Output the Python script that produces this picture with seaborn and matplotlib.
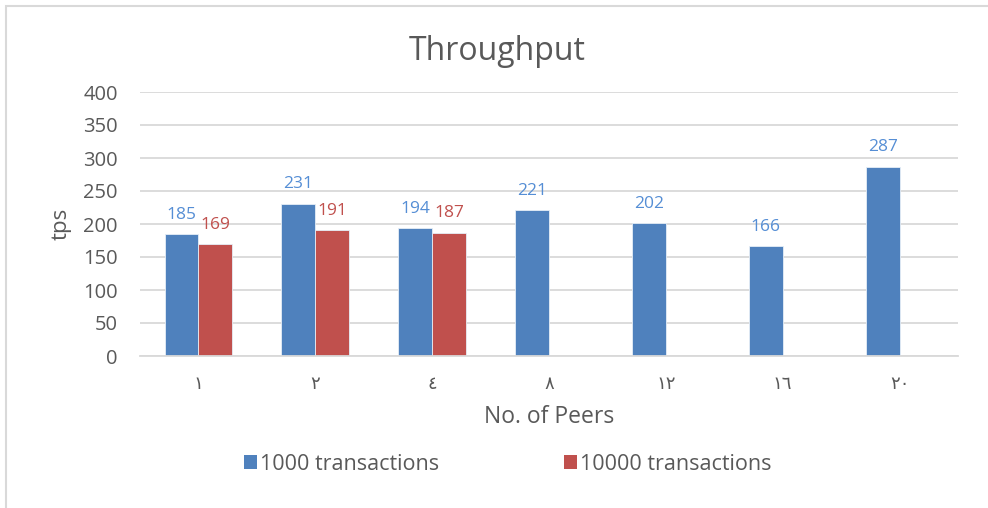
import matplotlib
matplotlib.use("Agg")
import matplotlib.pyplot as plt
from matplotlib.patches import Rectangle, Patch
import seaborn as sns
import pandas as pd
import numpy as np

categories = ["١", "٢", "٤", "٨", "١٢", "١٦", "٢٠"]
tx1000 = [185, 231, 194, 221, 202, 166, 287]
tx10000 = [169, 191, 187, np.nan, np.nan, np.nan, np.nan]
series_names = ["1000 transactions", "10000 transactions"]
colors = ["#4F81BD", "#C0504D"]
label_colors = ["#558ED5", "#C0504D"]
yticks = [0, 50, 100, 150, 200, 250, 300, 350, 400]

df = pd.DataFrame({
    "peers": categories * 2,
    "tps": tx1000 + tx10000,
    "series": [series_names[0]] * len(categories) + [series_names[1]] * len(categories),
})

sns.set_theme(style="white")
plt.rcParams["font.family"] = ["Open Sans", "DejaVu Sans"]
text_color = "#595959"

fig = plt.figure(figsize=(9.88, 5.08), dpi=100)
ax = fig.add_axes([140 / 988, 1 - 356 / 508, (958.5 - 140.5) / 988, (356 - 92) / 508])

sns.barplot(data=df, x="peers", y="tps", hue="series", order=categories,
            hue_order=series_names, palette=colors, width=0.58, gap=0,
            ax=ax, legend=False, edgecolor="#E6EEF7", linewidth=0.6, saturation=1)

for cont, lc in zip(ax.containers, label_colors):
    labels = ["" if np.isnan(v) else f"{int(v)}" for v in cont.datavalues]
    ax.bar_label(cont, labels=labels, padding=8, color=lc, fontsize=12.5)

ax.set_xlim(-0.5, len(categories) - 0.5)
ax.set_ylim(0, 400)
ax.set_yticks(yticks)
ax.set_yticklabels([str(t) for t in yticks], fontsize=14.5, color=text_color)
ax.set_xticks(range(len(categories)))
ax.set_xticklabels(categories, fontsize=13, color=text_color,
                   family=["DejaVu Sans"])
ax.tick_params(axis="x", length=0, pad=14)
ax.tick_params(axis="y", length=0, pad=16)
ax.grid(axis="y", color="#D9D9D9", linewidth=1.3)
ax.set_axisbelow(True)
for s in ["top", "right", "left"]:
    ax.spines[s].set_visible(False)
ax.spines["bottom"].set_color("#D9D9D9")
ax.spines["bottom"].set_linewidth(1.3)

ax.set_xlabel("No. of Peers", fontsize=16.5, color=text_color, labelpad=8)
ax.set_ylabel("tps", fontsize=16, color=text_color, labelpad=8)

fig.text(0.5 + 3 / 988, 1 - 51 / 508, "Throughput", ha="center", va="center",
         fontsize=23, color=text_color)

handles = [Patch(facecolor=c, edgecolor="none") for c in colors]
fig.legend(handles, series_names, loc="center", bbox_to_anchor=(508 / 988, 1 - 464 / 508),
           ncol=2, frameon=False, fontsize=15.5, handlelength=0.6, handleheight=0.6,
           handletextpad=0.15, columnspacing=5.8, labelcolor=text_color)

fig.patches.append(Rectangle((6 / 988, -0.1), 1.2, 1 - 6 / 508 + 0.1,
                             transform=fig.transFigure, fill=False,
                             edgecolor="#D9D9D9", linewidth=1.5, zorder=0))

fig.savefig("out.png", dpi=100)
